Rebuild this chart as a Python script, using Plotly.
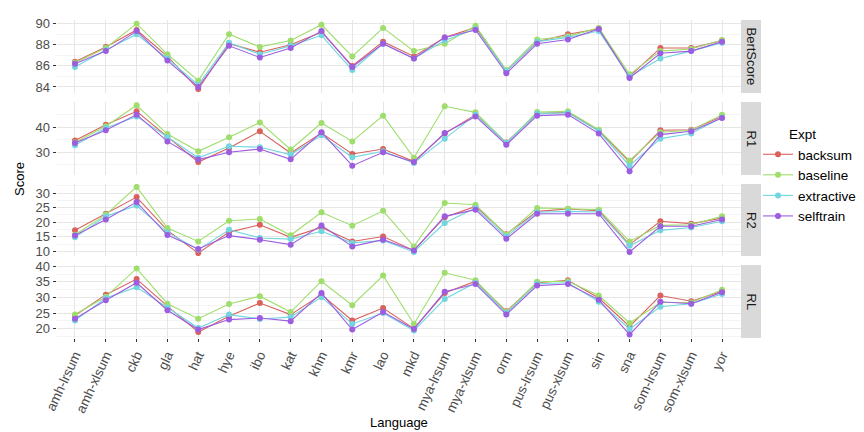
import plotly.graph_objects as go

langs = ["amh-lrsum", "amh-xlsum", "ckb", "gla", "hat", "hye", "ibo", "kat", "khm", "kmr", "lao", "mkd",
         "mya-lrsum", "mya-xlsum", "orm", "pus-lrsum", "pus-xlsum", "sin", "sna", "som-lrsum", "som-xlsum", "yor"]

metrics = ["BertScore", "R1", "R2", "RL"]
expts = ["backsum", "baseline", "extractive", "selftrain"]

bert_backsum = [86.4, 87.8, 89.4, 86.9, 83.8, 88.1, 87.3, 88.0, 89.2, 86.0, 88.3, 86.9, 88.7, 89.65, 85.5, 88.3, 89.0, 89.5, 85.0, 87.7, 87.7, 88.4]
bert_baseline = [86.3, 87.7, 90.0, 87.1, 84.6, 89.0, 87.8, 88.4, 89.9, 86.9, 89.6, 87.4, 88.1, 89.8, 85.6, 88.5, 88.8, 89.6, 85.2, 87.4, 87.6, 88.45]
bert_extractive = [85.9, 87.5, 89.0, 86.7, 84.2, 88.2, 87.1, 87.9, 88.9, 85.6, 88.1, 86.7, 88.4, 89.5, 85.5, 88.3, 88.7, 89.3, 85.0, 86.7, 87.4, 88.2]
bert_selftrain = [86.2, 87.4, 89.3, 86.5, 84.0, 87.9, 86.8, 87.7, 89.3, 85.9, 88.1, 86.7, 88.7, 89.4, 85.3, 88.1, 88.5, 89.5, 84.85, 87.2, 87.4, 88.3]

r1_backsum = [34.7, 40.9, 46.2, 36.3, 26.1, 31.7, 38.3, 29.7, 37.6, 29.3, 31.3, 26.4, 37.4, 44.9, 33.9, 45.3, 45.8, 38.6, 26.2, 38.7, 38.9, 44.2]
r1_baseline = [33.9, 40.3, 48.6, 37.2, 30.4, 35.9, 41.8, 31.1, 41.6, 34.3, 44.5, 27.8, 48.2, 45.8, 33.7, 45.9, 46.2, 38.9, 26.7, 37.9, 38.7, 44.9]
r1_extractive = [32.8, 39.6, 44.2, 35.9, 27.8, 32.4, 32.0, 29.1, 36.7, 28.0, 30.4, 25.8, 35.4, 44.9, 33.7, 45.3, 45.6, 38.3, 24.7, 35.4, 37.4, 43.8]
r1_selftrain = [33.7, 38.7, 44.9, 34.3, 27.1, 30.0, 31.3, 27.2, 37.9, 24.7, 30.0, 26.1, 37.6, 44.2, 33.0, 44.5, 44.9, 37.4, 22.5, 37.0, 38.3, 43.6]

r2_backsum = [17.2, 22.9, 28.6, 17.2, 9.4, 16.6, 19.1, 14.8, 18.2, 13.4, 15.1, 10.3, 21.7, 25.4, 15.9, 23.7, 24.5, 23.9, 12.3, 20.3, 19.5, 21.4]
r2_baseline = [15.7, 22.6, 32.1, 18.0, 13.4, 20.5, 21.1, 15.5, 23.4, 18.8, 23.9, 11.7, 26.6, 26.0, 15.7, 24.9, 24.6, 24.3, 13.4, 18.9, 19.1, 22.0]
r2_extractive = [14.8, 22.0, 25.7, 16.5, 10.6, 17.4, 14.6, 14.2, 16.9, 12.9, 13.7, 9.8, 19.7, 24.9, 15.1, 23.4, 23.7, 23.5, 11.9, 17.2, 18.2, 20.3]
r2_selftrain = [15.4, 20.9, 26.9, 15.6, 10.8, 15.4, 14.0, 12.3, 18.9, 11.7, 14.0, 10.3, 22.0, 24.3, 14.3, 22.9, 22.9, 22.9, 9.8, 18.6, 18.6, 20.9]

rl_backsum = [24.2, 30.9, 35.9, 27.2, 18.9, 24.0, 28.2, 24.5, 30.9, 22.6, 26.6, 20.0, 31.4, 35.2, 25.6, 34.7, 35.5, 29.8, 20.7, 30.6, 28.8, 32.0]
rl_baseline = [24.5, 30.2, 39.3, 28.0, 23.2, 27.9, 30.4, 25.3, 35.2, 27.5, 37.0, 21.5, 37.9, 35.5, 25.3, 35.0, 35.2, 30.6, 21.8, 28.4, 28.4, 32.5]
rl_extractive = [22.6, 29.8, 33.3, 26.8, 20.2, 24.5, 23.1, 23.7, 30.1, 21.5, 25.0, 19.4, 29.5, 34.7, 25.0, 34.4, 34.7, 28.6, 19.9, 27.0, 28.0, 31.1]
rl_selftrain = [23.2, 29.1, 34.7, 25.9, 19.7, 22.9, 23.4, 22.4, 31.4, 19.7, 25.3, 19.9, 31.8, 34.3, 24.5, 33.8, 34.3, 29.3, 18.1, 28.6, 28.0, 31.7]

data = {
    "BertScore": [bert_backsum, bert_baseline, bert_extractive, bert_selftrain],
    "R1": [r1_backsum, r1_baseline, r1_extractive, r1_selftrain],
    "R2": [r2_backsum, r2_baseline, r2_extractive, r2_selftrain],
    "RL": [rl_backsum, rl_baseline, rl_extractive, rl_selftrain],
}

colors = ["#d9625c", "#9fde6c", "#72d5df", "#9d5de0"]

W, H = 864, 432
x_left, x_right = 48.5, 732.5
panels_px = [(12, 85), (94, 167), (176, 248), (257, 330)]
yranges = [[83.43, 90.35], [21.0, 49.9], [8.4, 33.1], [17.0, 40.4]]
dticks = [2, 10, 5, 5]
minor_dticks = [1, 5, 2.5, 2.5]

FONT = "Liberation Sans, Arial, sans-serif"
fig = go.Figure()

for i, m in enumerate(metrics):
    ax = "" if i == 0 else str(i + 1)
    for j, e in enumerate(expts):
        fig.add_trace(go.Scatter(
            x=langs, y=data[m][j], mode="lines+markers", name=e,
            legendgroup=e, showlegend=(i == 0),
            line=dict(color=colors[j], width=1.1),
            marker=dict(color=colors[j], size=6),
            xaxis="x" + ax, yaxis="y" + ax,
        ))
    top, bot = panels_px[i]
    ydom = [1 - bot / H, 1 - top / H]
    last = (i == len(metrics) - 1)
    fig.layout["xaxis" + ax] = dict(
        domain=[x_left / W, x_right / W], anchor="y" + ax, automargin=False,
        type="category", categoryorder="array", categoryarray=langs,
        range=[-0.6, len(langs) - 0.4],
        showgrid=True, gridcolor="#e6e6e6", gridwidth=1,
        showline=False, zeroline=False,
        showticklabels=last, ticks="outside" if last else "",
        ticklen=3, tickcolor="#333333", tickangle=-65,
        tickfont=dict(family=FONT, size=13.5, color="#4d4d4d"),
        matches="x" if i > 0 else None,
    )
    fig.layout["yaxis" + ax] = dict(
        domain=ydom, anchor="x" + ax, range=yranges[i], automargin=False,
        dtick=dticks[i], tick0=0,
        showgrid=True, gridcolor="#e6e6e6", gridwidth=1,
        minor=dict(dtick=minor_dticks[i], tick0=0, showgrid=True, gridcolor="#f3f3f3", gridwidth=1),
        zeroline=False, showline=False,
        ticks="outside", ticklen=3, tickcolor="#333333",
        tickfont=dict(family=FONT, size=13, color="#4d4d4d"),
    )
    # facet strip
    fig.add_shape(type="rect", xref="paper", yref="paper",
                  x0=733 / W, x1=753 / W, y0=ydom[0], y1=ydom[1],
                  fillcolor="#d9d9d9", line=dict(width=0), layer="below")
    fig.add_annotation(text=m, xref="paper", yref="paper", x=743 / W, y=(ydom[0] + ydom[1]) / 2,
                       textangle=90, showarrow=False, xanchor="center", yanchor="middle",
                       font=dict(family=FONT, size=13, color="#1a1a1a"))

fig.add_annotation(text="Score", xref="paper", yref="paper", x=12 / W, y=1 - 171 / H,
                   textangle=-90, showarrow=False, xanchor="center", yanchor="middle",
                   font=dict(family=FONT, size=13, color="#000000"))
fig.add_annotation(text="Language", xref="paper", yref="paper", x=390.5 / W, y=1 - 414 / H,
                   showarrow=False, xanchor="center", yanchor="middle",
                   font=dict(family=FONT, size=13, color="#000000"))
fig.add_annotation(text="Expt", xref="paper", yref="paper", x=779 / W, y=1 - 127 / H,
                   showarrow=False, xanchor="left", yanchor="middle",
                   font=dict(family=FONT, size=13.5, color="#000000"))

fig.update_layout(
    width=W, height=H,
    margin=dict(l=0, r=0, t=0, b=0, autoexpand=False),
    paper_bgcolor="white", plot_bgcolor="white",
    font=dict(family=FONT, size=13, color="#000000"),
    legend=dict(x=750 / W, y=1 - 131 / H,
                xanchor="left", yanchor="top", font=dict(size=13.5), tracegroupgap=0,
                itemwidth=30, bgcolor="rgba(0,0,0,0)"),
)

fig.write_html("out.html")
